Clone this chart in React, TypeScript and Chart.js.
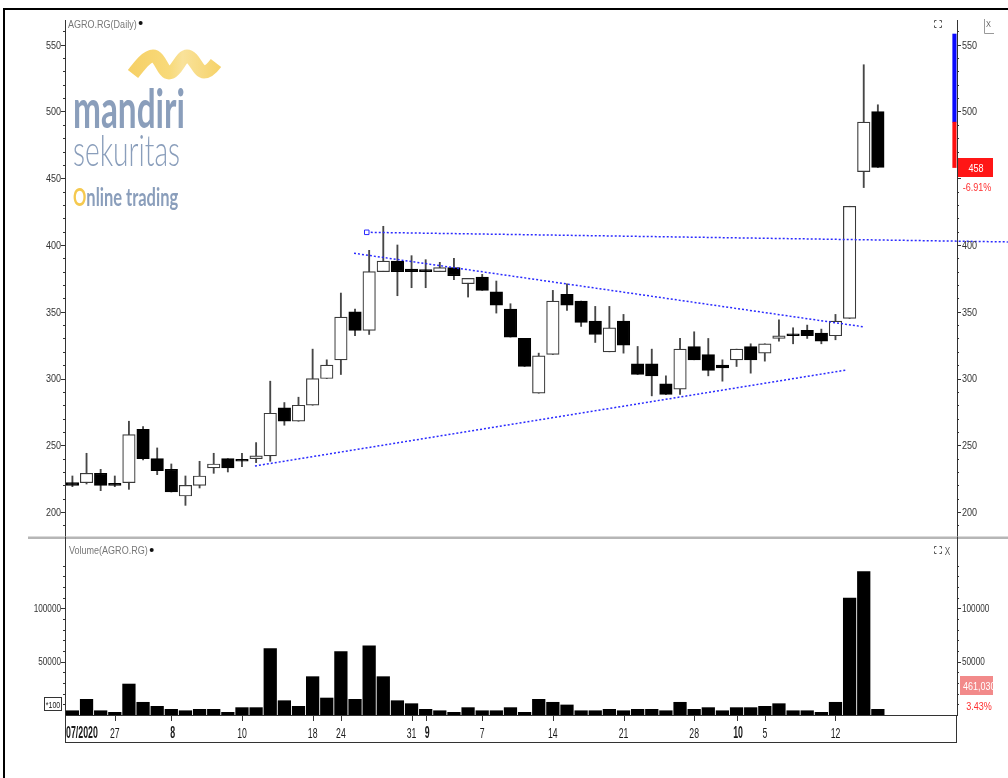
import { useEffect, useRef } from 'react';
import { Chart, registerables } from 'chart.js';

Chart.register(...registerables);

const W = 1008;
const H = 778;

// ---------------- data ----------------
const opens = [222,222,229,220,222,262,240,232,212,220,233,240,238,240,242,278,268,280,300,314,350,336,380,388,382,380,380,383,371,376,365,352,330,289,318,363,358,343,320,343,311,311,296,292,324,318,310,314,324,319,330,332,336,334,332,345,455,500];
const highs = [227,244,232,227,268,264,248,236,227,238,244,240,244,252,298,282,286,322,314,364,352,396,414,400,392,389,387,390,375,378,373,356,330,319,366,371,358,354,354,348,324,322,302,330,335,330,314,322,326,326,344,338,340,337,348,429,535,505];
const lows = [219,221,216,219,217,239,228,215,205,218,229,230,234,237,238,265,268,280,300,303,332,333,380,362,368,368,380,374,361,366,349,331,309,289,318,351,339,327,320,319,303,287,288,288,314,302,298,309,304,313,328,326,330,326,329,345,443,458];
const closes = [220,229,220,220,258,240,231,215,220,227,236,233,238,242,274,268,280,300,310,346,336,380,388,380,380,380,383,377,375,366,355,331,309,317,358,355,342,333,338,325,303,302,288,322,314,306,308,322,314,326,332,332,332,328,343,429,492,458];
const volumes = [4000,14700,4000,2500,29000,11900,8100,5300,4000,5300,5300,2500,6900,6900,62200,13400,8100,35900,15900,59400,14700,64700,35900,13400,10600,5300,4000,2500,6900,4000,4000,6900,2500,14700,11900,9400,4000,4000,5300,4000,5300,5300,4000,11900,5300,6900,4000,6900,6900,8100,10600,4000,4000,2500,11900,109400,134400,5300];

const dateTickIndex = [0,3,7,12,17,19,24,25,29,34,39,44,47,49,54];
const dateTickLabels = ['07/2020','27','8','10','18','24','31','9','7','14','21','28','10','5','12'];
const dateTickBold = [true,false,true,false,false,false,false,true,false,false,false,false,true,false,false];

const priceTicks = [200,250,300,350,400,450,500,550];
const volumeTicks = [50000,100000];

const resistanceLine = [{ x: 20.83, y: 409.5 }, { x: 66.2, y: 402.3 }];
const upperTrendLine = [{ x: 19.93, y: 393.8 }, { x: 55.93, y: 338.8 }];
const lowerTrendLine = [{ x: 12.92, y: 234.5 }, { x: 54.8, y: 306.4 }];

const rangeTop = 558;
const volumeLastLabel = '461,030';
const volumeChangeLabel = '3.43%';
const priceTitle = 'AGRO.RG(Daily)';
const volumeTitle = 'Volume(AGRO.RG)';

// ---------------- style ----------------
const SANS = '"Liberation Sans", Arial, sans-serif';
const SQ = 0.82;
const AXIS = '#333333';
const BLUE = '#2a2aff';
const SLATE = '#8a9ebb';
const YELLOW = '#f7d670';
const X_MIN = -0.524;
const X_MAX = 62.6;

function drawSquashed(ctx: CanvasRenderingContext2D, text: string, x: number, y: number, font: string, color: string, sx: number, align: 'left' | 'center' | 'right') {
  ctx.save();
  ctx.font = font;
  ctx.fillStyle = color;
  ctx.textBaseline = 'alphabetic';
  ctx.textAlign = 'left';
  const w = ctx.measureText(text).width * sx;
  const left = align === 'left' ? x : align === 'center' ? x - w / 2 : x - w;
  ctx.translate(left, y);
  ctx.scale(sx, 1);
  ctx.fillText(text, 0, 0);
  ctx.restore();
  return w;
}

function fitScale(ctx: CanvasRenderingContext2D, text: string, font: string, width: number) {
  ctx.save();
  ctx.font = font;
  const m = ctx.measureText(text).width;
  ctx.restore();
  return width / m;
}

function line(ctx: CanvasRenderingContext2D, x1: number, y1: number, x2: number, y2: number) {
  ctx.beginPath();
  ctx.moveTo(x1, y1);
  ctx.lineTo(x2, y2);
  ctx.stroke();
}

function expandIcon(ctx: CanvasRenderingContext2D, x: number, y: number) {
  ctx.save();
  ctx.strokeStyle = '#555';
  ctx.lineWidth = 1;
  const s = 7, k = 2;
  const pts = [[x, y, 1, 1], [x + s, y, -1, 1], [x, y + s, 1, -1], [x + s, y + s, -1, -1]];
  for (const [px, py, dx, dy] of pts) {
    ctx.beginPath();
    ctx.moveTo(px + 0.5, py + 0.5 + dy * k);
    ctx.lineTo(px + 0.5, py + 0.5);
    ctx.lineTo(px + 0.5 + dx * k, py + 0.5);
    ctx.stroke();
  }
  ctx.restore();
}

function drawAxisLabels(chart: any, fontSize: number) {
  const ctx: CanvasRenderingContext2D = chart.ctx;
  const a = chart.chartArea;
  for (const id of ['y', 'y2']) {
    const s = chart.scales[id];
    const left = id === 'y';
    s.ticks.forEach((t: any) => {
      const py = s.getPixelForValue(t.value);
      const txt = String(t.value);
      if (left) drawSquashed(ctx, txt, a.left - 4, py + fontSize * 0.36, `${fontSize}px ${SANS}`, '#333', SQ, 'right');
      else drawSquashed(ctx, txt, a.right + 5, py + fontSize * 0.36, `${fontSize}px ${SANS}`, '#333', SQ, 'left');
    });
  }
}

function drawLogo(ctx: CanvasRenderingContext2D) {
  ctx.save();
  const g = ctx.createLinearGradient(130, 0, 218, 0);
  g.addColorStop(0, '#f6d066');
  g.addColorStop(0.45, '#f8da7a');
  g.addColorStop(0.6, '#f9e29a');
  g.addColorStop(1, '#f6d36c');
  ctx.strokeStyle = g;
  ctx.lineWidth = 13;
  ctx.lineCap = 'butt';
  ctx.lineJoin = 'round';
  ctx.beginPath();
  ctx.moveTo(133, 74);
  ctx.bezierCurveTo(140, 65, 147, 56, 153, 56);
  ctx.bezierCurveTo(160, 56, 163, 73, 169, 73);
  ctx.bezierCurveTo(176, 73, 181, 56, 187, 56);
  ctx.bezierCurveTo(194, 56, 198, 72, 204, 72);
  ctx.bezierCurveTo(209, 72, 213, 67, 216, 63);
  ctx.stroke();
  ctx.restore();

  const f1 = 'bold 54px Lato';
  drawSquashed(ctx, 'mandiri', 73, 128, f1, SLATE, fitScale(ctx, 'mandiri', f1, 112), 'left');
  const f2 = '300 43px Lato';
  drawSquashed(ctx, 'sekuritas', 73, 166, f2, SLATE, fitScale(ctx, 'sekuritas', f2, 107), 'left');
  const f3 = 'bold 24px Lato';
  const s3 = fitScale(ctx, 'Online trading', f3, 105);
  const wO = drawSquashed(ctx, 'O', 73, 206, f3, '#f5c94f', s3, 'left');
  drawSquashed(ctx, 'nline trading', 73 + wO, 206, f3, SLATE, s3, 'left');
}

const pricePlugin = {
  id: 'pricePlugin',
  beforeDatasetsDraw(chart: any) {
    drawLogo(chart.ctx);
  },
  afterDraw(chart: any) {
    const ctx: CanvasRenderingContext2D = chart.ctx;
    const ys = chart.scales.y;
    const a = chart.chartArea;
    ctx.save();
    ctx.strokeStyle = AXIS;
    ctx.lineWidth = 1;
    for (let v = 190; v <= 560; v += 10) {
      const py = Math.round(ys.getPixelForValue(v)) + 0.5;
      const len = v % 50 === 0 ? 4 : 2;
      line(ctx, a.left - len, py, a.left, py);
      line(ctx, a.right, py, a.right + len, py);
    }
    ctx.restore();
    drawAxisLabels(chart, 11);

    // title
    ctx.save();
    ctx.beginPath();
    ctx.rect(a.left + 1, a.top - 1, 300, 20);
    ctx.clip();
    const tw = drawSquashed(ctx, priceTitle, 68, 28, `11px ${SANS}`, '#777', SQ, 'left');
    ctx.fillStyle = '#111';
    ctx.beginPath();
    ctx.arc(68 + tw + 4, 23, 2, 0, Math.PI * 2);
    ctx.fill();
    ctx.restore();

    // icons
    expandIcon(ctx, 934, 20);
    ctx.save();
    ctx.strokeStyle = '#999';
    ctx.lineWidth = 1;
    line(ctx, 984.5, 19, 984.5, 33.5);
    line(ctx, 984.5, 33.5, 994, 33.5);
    ctx.restore();
    drawSquashed(ctx, 'X', 988.5, 27, `9px ${SANS}`, '#666', SQ, 'center');

    // last price label
    const last = closes[closes.length - 1];
    const prev = closes[closes.length - 2];
    const chg = ((last - prev) / prev) * 100;
    const cy = ys.getPixelForValue(last);
    ctx.save();
    ctx.fillStyle = '#ff1616';
    ctx.fillRect(958, Math.round(cy - 9.5), 35, 19);
    ctx.restore();
    drawSquashed(ctx, String(last), 976, cy + 4, `11px ${SANS}`, '#ffffff', SQ, 'center');
    drawSquashed(ctx, `${chg.toFixed(2)}%`, 977, cy + 23, `11px ${SANS}`, '#ff3030', SQ, 'center');

    // frame and separator
    ctx.save();
    ctx.fillStyle = '#000';
    ctx.fillRect(3, 8, W - 3, 2);
    ctx.fillRect(3, 8, 2, H - 8);
    ctx.fillStyle = '#b6b6b6';
    ctx.fillRect(28, 536.5, W - 28, 2.5);
    ctx.restore();
  },
};

const volumePlugin = {
  id: 'volumePlugin',
  afterDraw(chart: any) {
    const ctx: CanvasRenderingContext2D = chart.ctx;
    const ys = chart.scales.y;
    const xs = chart.scales.x;
    const a = chart.chartArea;
    ctx.save();
    ctx.strokeStyle = AXIS;
    ctx.lineWidth = 1;
    for (let v = 10000; v <= 140000; v += 10000) {
      const py = Math.round(ys.getPixelForValue(v)) + 0.5;
      const len = v % 50000 === 0 ? 4 : 2;
      line(ctx, a.left - len, py, a.left, py);
      line(ctx, a.right, py, a.right + len, py);
    }
    const boxBottom = 742;
    ctx.strokeRect(Math.round(a.left) + 0.5, Math.round(a.bottom) + 0.5, Math.round(a.right - a.left) - 1, boxBottom - Math.round(a.bottom));
    ctx.restore();
    drawAxisLabels(chart, 10);

    // date labels
    dateTickIndex.forEach((idx, k) => {
      const px = xs.getPixelForValue(idx);
      const bold = dateTickBold[k];
      if (k > 0) {
        ctx.save();
        ctx.strokeStyle = AXIS;
        ctx.lineWidth = 1;
        line(ctx, Math.round(px) + 0.5, a.bottom, Math.round(px) + 0.5, a.bottom + 6);
        ctx.restore();
      }
      const font = bold ? `bold 16px ${SANS}` : `14px ${SANS}`;
      const sx = bold ? 0.55 : 0.62;
      if (k === 0) drawSquashed(ctx, dateTickLabels[k], a.left + 1, 738, font, '#1a1a1a', sx, 'left');
      else drawSquashed(ctx, dateTickLabels[k], px + (bold ? 1.5 : 0), 738, font, '#1a1a1a', sx, 'center');
    });

    // title
    const tw = drawSquashed(ctx, volumeTitle, 69, 554, `11px ${SANS}`, '#777', SQ, 'left');
    ctx.save();
    ctx.fillStyle = '#111';
    ctx.beginPath();
    ctx.arc(69 + tw + 4, 550, 2, 0, Math.PI * 2);
    ctx.fill();
    ctx.restore();

    expandIcon(ctx, 934, 546);
    drawSquashed(ctx, 'X', 947.5, 555, `10px ${SANS}`, '#555', SQ, 'center');

    // *100 box
    ctx.save();
    ctx.strokeStyle = AXIS;
    ctx.lineWidth = 1;
    ctx.strokeRect(44.5, 697.5, 17, 13);
    ctx.restore();
    drawSquashed(ctx, '*100', 53, 708, `9px ${SANS}`, '#222', 0.78, 'center');

    // last volume label
    ctx.save();
    ctx.fillStyle = '#f28a8a';
    ctx.fillRect(960, 676, 33, 19);
    ctx.beginPath();
    ctx.rect(960, 676, 33, 19);
    ctx.clip();
    drawSquashed(ctx, volumeLastLabel, 963, 690, `11px ${SANS}`, '#ffffff', SQ, 'left');
    ctx.restore();
    drawSquashed(ctx, volumeChangeLabel, 979, 710, `11px ${SANS}`, '#ff3030', SQ, 'center');
  },
};

function yAxis(position: 'left' | 'right', min: number, max: number, tickValues: () => number[]): any {
  return {
    type: 'linear',
    position,
    min,
    max,
    afterFit(s: any) { s.width = position === 'left' ? 65 : W - 957; },
    afterBuildTicks(s: any) { s.ticks = tickValues().map((v) => ({ value: v })); },
    grid: { display: false, drawTicks: false },
    border: { display: true, color: AXIS, width: 1 },
    ticks: { display: false },
  };
}

function priceConfig(): any {
  const bodies = opens.map((o, i) => ({ x: i, y: [o, closes[i]] }));
  const wicks = lows.map((l, i) => ({ x: i, y: [l, highs[i]] }));
  const up = closes.map((c, i) => c > opens[i]);
  const last = closes[closes.length - 1];
  const prev = closes[closes.length - 2];
  const strip = [
    { x: 62.42, y: [prev, rangeTop] },
    { x: 62.42, y: [last, prev] },
  ];
  const trend = (data: any[], extra: any = {}) => ({
    type: 'line',
    data,
    borderColor: BLUE,
    borderWidth: 1.5,
    borderDash: [2, 2],
    pointRadius: 0,
    fill: false,
    ...extra,
  });
  return {
    type: 'bar',
    data: {
      datasets: [
        trend(resistanceLine, { clip: false, pointRadius: [3.2, 0], pointStyle: 'rect', pointBackgroundColor: '#fff', pointBorderColor: BLUE, pointBorderWidth: 1 }),
        trend(upperTrendLine),
        trend(lowerTrendLine),
        {
          type: 'bar',
          data: bodies,
          backgroundColor: up.map((u) => (u ? '#ffffff' : '#000000')),
          borderColor: up.map((u) => (u ? '#3a3a3a' : '#000000')),
          borderWidth: 1.2,
          borderSkipped: false,
          barThickness: 12.5,
          minBarLength: 2,
          grouped: false,
        },
        {
          type: 'bar',
          data: wicks,
          backgroundColor: '#474747',
          borderWidth: 0,
          barThickness: 1.2,
          grouped: false,
        },
        {
          type: 'bar',
          data: strip,
          backgroundColor: ['#0a0aff', '#ff1010'],
          borderWidth: 0,
          barThickness: 3.5,
          grouped: false,
        },
      ],
    },
    options: {
      responsive: false,
      animation: false,
      devicePixelRatio: 1,
      events: [],
      layout: { padding: { top: 20, bottom: H - 537, left: 0, right: 0 } },
      plugins: { legend: { display: false }, tooltip: { enabled: false } },
      scales: {
        x: { type: 'linear', min: X_MIN, max: X_MAX, offset: false, display: false },
        y: yAxis('left', 181.3, 568.5, () => priceTicks),
        y2: yAxis('right', 181.3, 568.5, () => priceTicks.filter((v) => Math.abs(v - last) > 15)),
      },
    },
    plugins: [pricePlugin],
  };
}

function volumeConfig(): any {
  return {
    type: 'bar',
    data: {
      datasets: [
        {
          type: 'bar',
          data: volumes.map((v, i) => ({ x: i, y: v })),
          backgroundColor: '#000000',
          borderWidth: 0,
          barThickness: 12.6,
          grouped: false,
        },
      ],
    },
    options: {
      responsive: false,
      animation: false,
      devicePixelRatio: 1,
      events: [],
      layout: { padding: { top: 537, bottom: H - 715, left: 0, right: 0 } },
      plugins: { legend: { display: false }, tooltip: { enabled: false } },
      scales: {
        x: { type: 'linear', min: X_MIN, max: X_MAX, offset: false, display: false },
        y: yAxis('left', 0, 166700, () => volumeTicks),
        y2: yAxis('right', 0, 166700, () => volumeTicks),
      },
    },
    plugins: [volumePlugin],
  };
}

export default function App() {
  const priceRef = useRef<HTMLCanvasElement>(null);
  const volRef = useRef<HTMLCanvasElement>(null);
  useEffect(() => {
    const pc = new Chart(priceRef.current as HTMLCanvasElement, priceConfig());
    const vc = new Chart(volRef.current as HTMLCanvasElement, volumeConfig());
    return () => {
      pc.destroy();
      vc.destroy();
    };
  }, []);
  const cs: any = { position: 'absolute', left: 0, top: 0, width: W, height: H };
  return (
    <div style={{ position: 'absolute', left: 0, top: 0, width: W, height: H, background: '#ffffff', overflow: 'hidden' }}>
      <canvas ref={priceRef} width={W} height={H} style={cs} />
      <canvas ref={volRef} width={W} height={H} style={cs} />
    </div>
  );
}
